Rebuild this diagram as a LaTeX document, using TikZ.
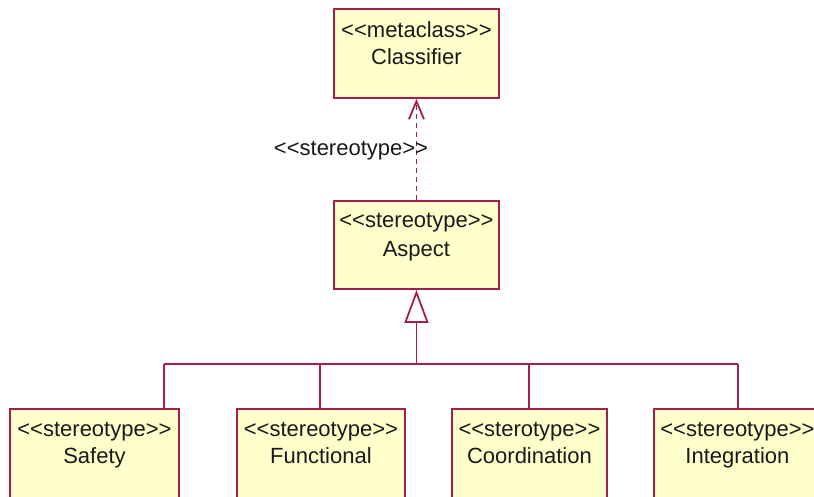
\documentclass[tikz,border=0pt]{standalone}
\usepackage{fontspec}
\setmainfont{Liberation Sans}[Ligatures=TeXOff]
\usetikzlibrary{arrows.meta}
\definecolor{umlline}{RGB}{165,30,75}
\definecolor{umlfill}{RGB}{255,255,204}
\tikzset{
  umlbox/.style={draw=umlline, fill=umlfill, line width=1.9pt, rectangle, inner sep=0pt, anchor=north west},
  umltext/.style={anchor=base, inner sep=0pt, font=\fontsize{22}{26}\selectfont, text=black!90},
  conn/.style={draw=umlline, line width=1.8pt},
}
\begin{document}
\begin{tikzpicture}[x=1pt,y=-1pt]
\useasboundingbox (0,0) rectangle (814,497);
\clip (0,0) rectangle (814,497);
\fill[white] (0,0) rectangle (814,497);
% boxes
\node[umlbox, minimum width=165pt, minimum height=89pt] (cls) at (333,8) {};
\node[umlbox, minimum width=165pt, minimum height=88pt] (asp) at (333,200) {};
\node[umlbox, minimum width=169pt, minimum height=110pt] (saf) at (9,408) {};
\node[umlbox, minimum width=168pt, minimum height=110pt] (fun) at (236,408) {};
\node[umlbox, minimum width=155pt, minimum height=110pt] (coo) at (451,408) {};
\node[umlbox, minimum width=167pt, minimum height=110pt] (int) at (653,408) {};
% texts
\node[umltext] (clsa) at ([yshift=-30pt]cls.north) {<<metaclass>>};
\node[umltext] (clsb) at ([yshift=-57pt]cls.north) {Classifier};
\node[umltext] (aspa) at ([yshift=-28pt]asp.north) {<<stereotype>>};
\node[umltext] (aspb) at ([yshift=-56pt]asp.north) {Aspect};
\node[umltext] (safa) at ([yshift=-28pt]saf.north) {<<stereotype>>};
\node[umltext] (safb) at ([yshift=-55pt]saf.north) {Safety};
\node[umltext] (funa) at ([yshift=-28pt]fun.north) {<<stereotype>>};
\node[umltext] (funb) at ([yshift=-55pt]fun.north) {Functional};
\node[umltext] (cooa) at ([yshift=-28pt]coo.north) {<<sterotype>>};
\node[umltext] (coob) at ([yshift=-55pt]coo.north) {Coordination};
\node[umltext] (inta) at ([yshift=-28pt]int.north) {<<stereotype>>};
\node[umltext] (intb) at ([yshift=-55pt]int.north) {Integration};
% dependency
\draw[conn, dash pattern=on 5pt off 4pt, -{Straight Barb[length=18pt,width=15pt,line width=1.8pt]}] (asp.north) -- (cls.south);
\node[umltext] (stlbl) at (351,156) {<<stereotype>>};
% generalization
\coordinate (j1) at (164,364);
\coordinate (j2) at (320,364);
\coordinate (j3) at (529,364);
\coordinate (j4) at (738,364);
\coordinate (bus) at (asp.south |- j1);
\draw[conn] (j1) -- (j4);
\draw[conn] (j1) -- (j1 |- saf.north);
\draw[conn] (j2) -- (j2 |- fun.north);
\draw[conn] (j3) -- (j3 |- coo.north);
\draw[conn] (j4) -- (j4 |- int.north);
\draw[conn, -{Triangle[open, length=33pt, width=24pt, fill=white]}] (bus) -- (asp.south);
\end{tikzpicture}
\end{document}
